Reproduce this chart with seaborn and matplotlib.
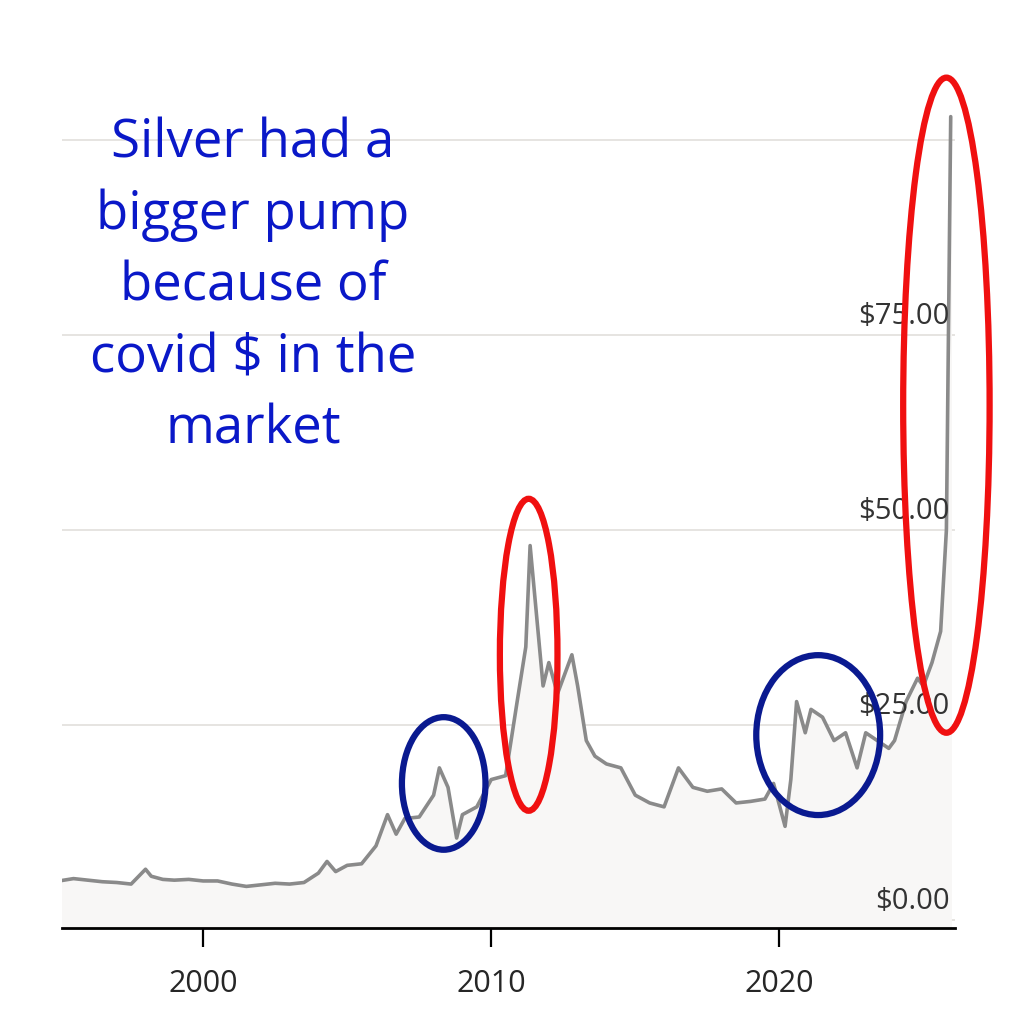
"""Silver price history with hand-drawn style annotations."""

import matplotlib
matplotlib.use("Agg")
import matplotlib.pyplot as plt
import pandas as pd
import seaborn as sns
from matplotlib.patches import Ellipse

# approximate price readings (year, USD/oz)
YEARS = [1995.0, 1995.5, 1996.0, 1996.5, 1997.0, 1997.5, 1998.0, 1998.2, 1998.6, 1999.0,
         1999.5, 2000.0, 2000.5, 2001.0, 2001.5, 2002.0, 2002.5, 2003.0, 2003.5, 2004.0,
         2004.3, 2004.6, 2005.0, 2005.5, 2006.0, 2006.4, 2006.7, 2007.0, 2007.5, 2008.0,
         2008.2, 2008.5, 2008.8, 2009.0, 2009.5, 2010.0, 2010.5, 2010.9, 2011.2, 2011.35,
         2011.6, 2011.8, 2012.0, 2012.3, 2012.6, 2012.8, 2013.0, 2013.3, 2013.6, 2014.0,
         2014.5, 2015.0, 2015.5, 2016.0, 2016.5, 2017.0, 2017.5, 2018.0, 2018.5, 2019.0,
         2019.5, 2019.8, 2020.2, 2020.4, 2020.6, 2020.9, 2021.1, 2021.5, 2021.9, 2022.3,
         2022.7, 2023.0, 2023.4, 2023.8, 2024.0, 2024.4, 2024.8, 2025.0, 2025.3, 2025.6,
         2025.8, 2025.95]
PRICES = [5.0, 5.3, 5.1, 4.9, 4.8, 4.6, 6.5, 5.6, 5.2, 5.1,
          5.2, 5.0, 5.0, 4.6, 4.3, 4.5, 4.7, 4.6, 4.8, 6.0,
          7.5, 6.2, 7.0, 7.2, 9.5, 13.5, 11.0, 13.0, 13.2, 16.0,
          19.5, 17.0, 10.5, 13.5, 14.5, 18.0, 18.5, 28.0, 35.0, 48.0,
          38.0, 30.0, 33.0, 29.0, 32.0, 34.0, 30.0, 23.0, 21.0, 20.0,
          19.5, 16.0, 15.0, 14.5, 19.5, 17.0, 16.5, 16.8, 15.0, 15.2,
          15.5, 17.5, 12.0, 18.0, 28.0, 24.0, 27.0, 26.0, 23.0, 24.0,
          19.5, 24.0, 23.0, 22.0, 23.0, 28.0, 31.0, 30.0, 33.0, 37.0,
          50.0, 103.0]

TICK_YEARS = [2000, 2010, 2020]
PRICE_TICKS = [0, 25, 50, 75, 100]
PRICE_LABELS = ["$0.00", "$25.00", "$50.00", "$75.00", ""]

NOTE = "Silver had a\nbigger pump\nbecause of\ncovid $ in the\nmarket"

df = pd.DataFrame({"year": YEARS, "price": PRICES})

sns.set_theme(style="white")
plt.rcParams["font.family"] = ["Open Sans", "DejaVu Sans"]

fig = plt.figure(figsize=(10.16, 10.24), dpi=100)
ax = fig.add_axes([0.061, 0.094, 0.879, 0.818])

ax.fill_between(df["year"], df["price"], -1, color="#f8f7f6", zorder=1)
sns.lineplot(data=df, x="year", y="price", color="#8a8a8a", linewidth=2.6, ax=ax, zorder=3)

for p in PRICE_TICKS:
    ax.axhline(p, color="#e2dfdc", linewidth=1.2, zorder=0)

ax.set_xlim(1995.1, 2026.1)
ax.set_ylim(-1, 106.4)
ax.set_xticks(TICK_YEARS)
ax.set_xticklabels([str(y) for y in TICK_YEARS], fontsize=22)
ax.tick_params(axis="x", length=14, width=1.6, color="black", direction="out", pad=16, bottom=True)
ax.set_yticks([])
ax.set_xlabel("")
ax.set_ylabel("")
for side in ["top", "left", "right"]:
    ax.spines[side].set_visible(False)
ax.spines["bottom"].set_color("black")
ax.spines["bottom"].set_linewidth(2)

for p, lab in zip(PRICE_TICKS, PRICE_LABELS):
    ax.text(2025.9, p + 0.5, lab, ha="right", va="bottom", fontsize=21, color="#333333", zorder=4)

fig.text(0.249, 0.72, NOTE, ha="center", va="center", fontsize=38, color="#0a18c8",
         linespacing=1.45)

# hand-drawn style highlights
blue = "#0a1a90"
red = "#f01010"
for center, w, h, col in [((2008.35, 17.5), 2.9, 17, blue),
                          ((2021.35, 23.7), 4.3, 20.5, blue),
                          ((2011.3, 34.0), 2.0, 40, red),
                          ((2025.8, 66.0), 3.0, 84, red)]:
    ax.add_patch(Ellipse(center, w, h, fill=False, ec=col, lw=4.5, zorder=5, clip_on=False))

fig.savefig("out.png", dpi=100, facecolor="white")
